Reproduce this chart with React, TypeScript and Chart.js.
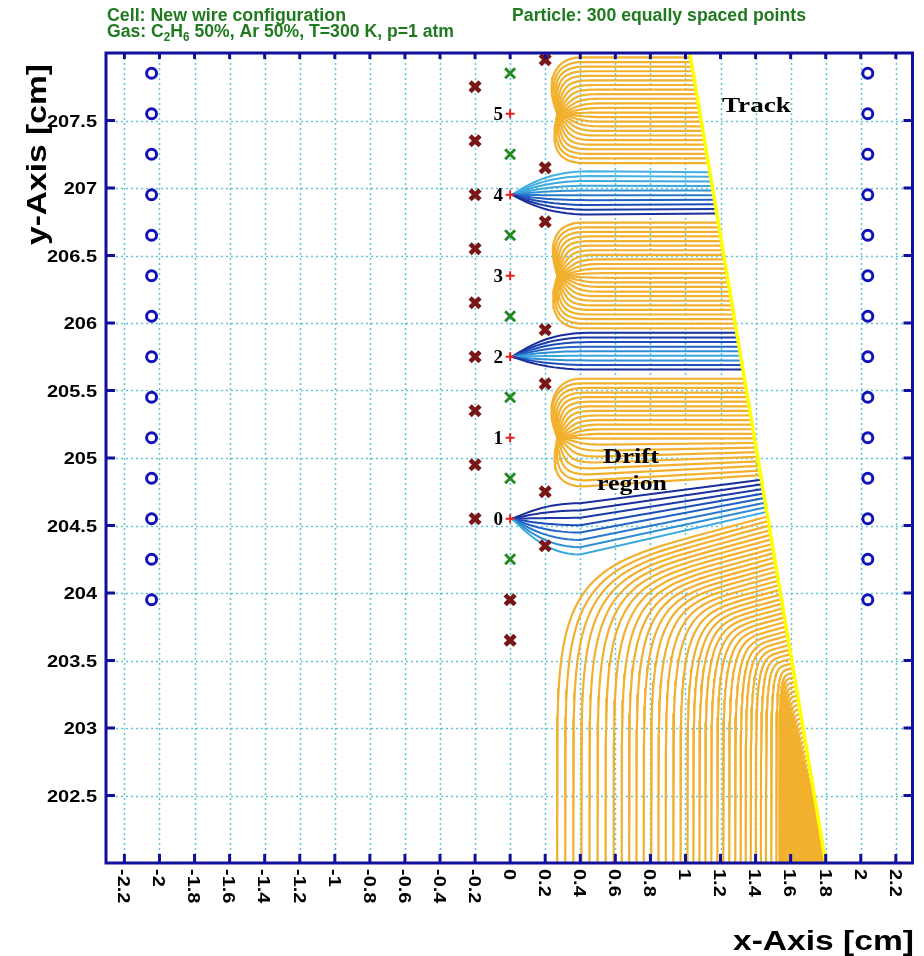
import { useEffect, useRef } from "react";
import { Chart, registerables } from "chart.js";
Chart.register(...registerables);

// ---------- axes ----------
const X_RANGE = [-2.305, 2.295];
const Y_RANGE = [202.0, 208.0];
const X_TICKS = [-2.2, -2, -1.8, -1.6, -1.4, -1.2, -1, -0.8, -0.6, -0.4, -0.2, 0, 0.2, 0.4, 0.6, 0.8, 1, 1.2, 1.4, 1.6, 1.8, 2, 2.2];
const X_TICK_LABELS = ["-2.2", "-2", "-1.8", "-1.6", "-1.4", "-1.2", "-1", "-0.8", "-0.6", "-0.4", "-0.2", "0", "0.2", "0.4", "0.6", "0.8", "1", "1.2", "1.4", "1.6", "1.8", "2", "2.2"];
const Y_TICKS = [202.5, 203, 203.5, 204, 204.5, 205, 205.5, 206, 206.5, 207, 207.5];
const Y_TICK_LABELS = ["202.5", "203", "203.5", "204", "204.5", "205", "205.5", "206", "206.5", "207", "207.5"];

// ---------- wires ----------
const CATHODE_X = [-2.045, 2.04];
const CATHODE_Y = [207.85, 207.55, 207.25, 206.95, 206.65, 206.35, 206.05, 205.75, 205.45, 205.15, 204.85, 204.55, 204.25, 203.95];
const SENSE_X = 0;
const SENSE_Y = [204.55, 205.15, 205.75, 206.35, 206.95, 207.55];
const SENSE_LABELS = ["0", "1", "2", "3", "4", "5"];
const FIELD_X = 0;
const FIELD_Y = [207.85, 207.25, 206.65, 206.05, 205.45, 204.85, 204.25];
const GUARD_L_X = -0.2;
const GUARD_L_Y = [207.75, 207.35, 206.95, 206.55, 206.15, 205.75, 205.35, 204.95, 204.55];
const GUARD_R_X = 0.2;
const GUARD_R_Y = [207.95, 207.15, 206.75, 205.95, 205.55, 204.75, 204.35];
const GUARD_M_X = 0;
const GUARD_M_Y = [203.95, 203.65];

// ---------- track ----------
const TRACK_X = [1.8, 1.025];
const TRACK_Y = [202.0, 208.0];
const TRACK_STEP = 0.034; // spacing of the drawn drift-line start points

// ---------- drift line groups (start heights on the track) ----------
const ORANGE_WIRE = [205.15, 206.35, 207.55];
const ORANGE_LO = [204.87, 205.96, 207.18];
const ORANGE_HI = [205.6, 206.77, 208.0];
const ORANGE_LOW_STRETCH = [1.3, 1.0, 1.0];
const BLUE_WIRE = [204.55, 205.75, 206.95];
const BLUE_LO = [204.6, 205.63, 206.8];
const BLUE_HI = [204.84, 205.93, 207.15];
const BLUE_LEFT_X = [0.4, 0.45, 0.45];
const BLUE_LEFT_SHIFT = [-0.245, 0, 0];
const BLUE_LEFT_STRETCH = [1.6, 1.0, 1.05];
const BOTTOM_START_Y = [202.0, 202.5, 203.0, 203.43, 203.7, 204.0, 204.3, 204.58];
const BOTTOM_END_X = [1.8, 1.72, 1.63, 1.53, 1.3, 1.0, 0.63, 0.25];

const ORANGE = "#f1b12e";
const BLUE_BAND_COLORS = [
  ["#3aa8dc", "#2f8fd4", "#2a78cc", "#2262c4", "#1d4db8", "#1a3aa8", "#1a2e9c", "#1a2e9c"],
  ["#1a2e9c", "#2050b8", "#2f8fd4", "#3aa8dc", "#2f8fd4", "#2262c4", "#1d4db8", "#1a3aa8", "#1a2e9c"],
  ["#1a2e9c", "#1a3aa8", "#1d4db8", "#2262c4", "#2a78cc", "#2f8fd4", "#3aa8dc", "#3aa8dc", "#42b0e0", "#42b0e0", "#48b8e4"],
];
const FRAME = "#10109c";
const GRID = "#5ec3d2";
const GREEN = "#1f7a1f";

type P = { x: number; y: number };

function trackX(y: number) {
  return TRACK_X[0] + ((TRACK_X[1] - TRACK_X[0]) * (y - TRACK_Y[0])) / (TRACK_Y[1] - TRACK_Y[0]);
}
function cubic(p0: P, p1: P, p2: P, p3: P, n: number): P[] {
  const out: P[] = [];
  for (let i = 1; i <= n; i++) {
    const t = i / n, u = 1 - t;
    out.push({
      x: u * u * u * p0.x + 3 * u * u * t * p1.x + 3 * u * t * t * p2.x + t * t * t * p3.x,
      y: u * u * u * p0.y + 3 * u * u * t * p1.y + 3 * u * t * t * p2.y + t * t * t * p3.y,
    });
  }
  return out;
}
function lookup(v: number, xs: number[], ys: number[]) {
  if (v <= xs[0]) return ys[0];
  for (let i = 1; i < xs.length; i++) {
    if (v <= xs[i]) {
      const f = (v - xs[i - 1]) / (xs[i] - xs[i - 1]);
      return ys[i - 1] + f * (ys[i] - ys[i - 1]);
    }
  }
  return ys[ys.length - 1];
}

function buildDriftLines() {
  const orange: P[][] = [];
  const blue: { pts: P[]; color: string }[] = [];
  const blueCount = [0, 0, 0];
  for (let y0 = TRACK_Y[0] + TRACK_STEP / 2; y0 < TRACK_Y[1]; y0 += TRACK_STEP) {
    const xt = trackX(y0);
    const start = { x: xt, y: y0 };
    if (y0 <= BOTTOM_START_Y[BOTTOM_START_Y.length - 1]) {
      // lines leaving through the bottom edge: squarish rounded path
      const xb = lookup(y0, BOTTOM_START_Y, BOTTOM_END_X);
      const span = xt - xb;
      const h = y0 - Y_RANGE[0];
      const tilt = 0.35 * span;
      const pts: P[] = [];
      const N = 36;
      for (let k = 0; k <= N; k++) {
        const phi = (Math.PI / 2) * (1 - k / N);
        const c = Math.pow(Math.max(0, Math.cos(phi)), 1 / 3);
        const s = Math.pow(Math.max(0, Math.sin(phi)), 1 / 3);
        pts.push({ x: xt - span * c, y: Y_RANGE[0] + (h - tilt) * s + tilt * (1 - c) });
      }
      orange.push(pts);
      continue;
    }
    let done = false;
    for (let b = 0; b < ORANGE_WIRE.length; b++) {
      if (y0 >= ORANGE_LO[b] && y0 <= ORANGE_HI[b]) {
        const yw = ORANGE_WIRE[b];
        const d = y0 - yw;
        const dd = d * (d < 0 ? ORANGE_LOW_STRETCH[b] : 1);
        const f = Math.min(1, Math.abs(dd) / 0.42);
        const th = (f * 130 * Math.PI) / 180;
        const xs = 0.55 - 0.15 * f;
        const a = { x: xs, y: yw + dd };
        const sg = dd >= 0 ? 1 : -1;
        const p1 = { x: xs - 0.15, y: yw + dd };
        const p2 = { x: 0.27 + 0.12 * Math.cos(th), y: yw + sg * (0.05 + 0.25 * f) * Math.sin(th) };
        orange.push([start, a, ...cubic(a, p1, p2, { x: 0.27, y: yw }, 18)]);
        done = true;
      }
    }
    if (done) continue;
    for (let b = 0; b < BLUE_WIRE.length; b++) {
      if (y0 >= BLUE_LO[b] && y0 <= BLUE_HI[b]) {
        const yw = BLUE_WIRE[b];
        const mid = (BLUE_LO[b] + BLUE_HI[b]) / 2;
        const yl = mid + BLUE_LEFT_SHIFT[b] + (y0 - mid) * BLUE_LEFT_STRETCH[b];
        const l = { x: BLUE_LEFT_X[b], y: yl };
        const pts = [start, l, ...cubic(l, { x: 0.2, y: yl }, { x: 0.08, y: yw + 0.3 * (yl - yw) }, { x: 0.01, y: yw }, 16)];
        const cols = BLUE_BAND_COLORS[b];
        blue.push({ pts, color: cols[Math.min(blueCount[b]++, cols.length - 1)] });
      }
    }
  }
  return { orange, blue };
}

function drawText(
  ctx: CanvasRenderingContext2D,
  text: string,
  x: number,
  y: number,
  font: string,
  o: { width?: number; sx?: number; align?: string; angle?: number; color?: string; dy?: number } = {}
) {
  ctx.save();
  ctx.font = font;
  ctx.fillStyle = o.color || "#000";
  ctx.textBaseline = "alphabetic";
  ctx.textAlign = "left";
  const w = ctx.measureText(text).width;
  const sx = o.width ? o.width / w : o.sx ?? 1;
  ctx.translate(x, y);
  if (o.angle) ctx.rotate(o.angle);
  ctx.scale(sx, 1);
  let x0 = 0;
  if (o.align === "right") x0 = -w;
  else if (o.align === "center") x0 = -w / 2;
  ctx.fillText(text, x0, o.dy ?? 0);
  ctx.restore();
  return sx;
}

const SANS_B = (s: number) => `bold ${s}px "Liberation Sans", Arial, Helvetica, sans-serif`;
const NARROW_B = (s: number) => `bold ${s}px "Liberation Sans Narrow", "Liberation Sans", Arial, sans-serif`;
const SERIF_B = (s: number) => `bold ${s}px "Liberation Serif", "Times New Roman", serif`;

const decorPlugin = {
  id: "decor",
  beforeDatasetsDraw(chart: any) {
    const { ctx, chartArea: a, scales } = chart;
    ctx.save();
    ctx.strokeStyle = GRID;
    ctx.lineWidth = 1.5;
    ctx.setLineDash([2, 3]);
    for (const v of X_TICKS) {
      const px = Math.round(scales.x.getPixelForValue(v)) + 0.5;
      ctx.beginPath();
      ctx.moveTo(px, a.top);
      ctx.lineTo(px, a.bottom);
      ctx.stroke();
    }
    for (const v of Y_TICKS) {
      const py = Math.round(scales.y.getPixelForValue(v)) + 0.5;
      ctx.beginPath();
      ctx.moveTo(a.left, py);
      ctx.lineTo(a.right, py);
      ctx.stroke();
    }
    ctx.restore();
  },
  afterDatasetsDraw(chart: any) {
    const { ctx, chartArea: a, scales } = chart;
    ctx.save();
    ctx.strokeStyle = FRAME;
    ctx.lineWidth = 3;
    ctx.strokeRect(a.left, a.top, a.right - a.left, a.bottom - a.top);
    for (const v of X_TICKS) {
      const px = scales.x.getPixelForValue(v);
      ctx.beginPath();
      ctx.moveTo(px, a.bottom);
      ctx.lineTo(px, a.bottom - 9);
      ctx.moveTo(px, a.top);
      ctx.lineTo(px, a.top + 6);
      ctx.stroke();
    }
    for (const v of Y_TICKS) {
      const py = scales.y.getPixelForValue(v);
      ctx.beginPath();
      ctx.moveTo(a.left, py);
      ctx.lineTo(a.left + 9, py);
      ctx.moveTo(a.right, py);
      ctx.lineTo(a.right - 9, py);
      ctx.stroke();
    }
    ctx.restore();

    // tick labels
    ctx.save();
    ctx.font = SANS_B(17);
    const sx = 50 / ctx.measureText("207.5").width;
    ctx.restore();
    Y_TICKS.forEach((v, i) => {
      drawText(ctx, Y_TICK_LABELS[i], 97, scales.y.getPixelForValue(v) + 6.2, SANS_B(17), { sx, align: "right" });
    });
    X_TICKS.forEach((v, i) => {
      drawText(ctx, X_TICK_LABELS[i], scales.x.getPixelForValue(v), 869, SANS_B(17), { sx, angle: Math.PI / 2, dy: 6.2 });
    });
    // axis titles
    drawText(ctx, "x-Axis [cm]", 733, 950, SANS_B(28), { width: 181 });
    drawText(ctx, "y-Axis [cm]", 46, 245, SANS_B(28), { width: 181, angle: -Math.PI / 2 });

    // header texts
    drawText(ctx, "Cell: New wire configuration", 107, 21, NARROW_B(18), { width: 239, color: GREEN });
    drawText(ctx, "Particle: 300 equally spaced points", 512, 21, NARROW_B(18), { width: 294, color: GREEN });
    {
      const parts: [string, boolean][] = [["Gas: C", false], ["2", true], ["H", false], ["6", true], [" 50%, Ar 50%, T=300 K, p=1 atm", false]];
      ctx.save();
      let total = 0;
      const ws = parts.map(([t, sub]) => {
        ctx.font = sub ? NARROW_B(12) : NARROW_B(18);
        const w = ctx.measureText(t).width;
        total += w;
        return w;
      });
      const s = 347 / total;
      ctx.translate(107, 37);
      ctx.scale(s, 1);
      ctx.fillStyle = GREEN;
      let cx = 0;
      parts.forEach(([t, sub], i) => {
        ctx.font = sub ? NARROW_B(12) : NARROW_B(18);
        ctx.fillText(t, cx, sub ? 3.5 : 0);
        cx += ws[i];
      });
      ctx.restore();
    }

    // annotations
    drawText(ctx, "Track", 722, 112, SERIF_B(22), { width: 69 });
    drawText(ctx, "Drift", 603, 463, SERIF_B(22), { width: 56 });
    drawText(ctx, "region", 597, 490, SERIF_B(22), { width: 70 });
    SENSE_Y.forEach((v, i) => {
      drawText(ctx, SENSE_LABELS[i], 503, scales.y.getPixelForValue(v) + 6.5, SERIF_B(19), { align: "right" });
    });
  },
};

export default function App() {
  const ref = useRef<HTMLCanvasElement | null>(null);
  useEffect(() => {
    if (!ref.current) return;
    const { orange, blue } = buildDriftLines();
    const lineDs = (pts: P[], color: string, width: number, order: number) => ({
      data: pts,
      showLine: true,
      borderColor: color,
      borderWidth: width,
      pointRadius: 0,
      fill: false,
      clip: 0,
      order,
    });
    const markerDs = (pts: P[], style: string, radius: number, width: number, color: string) => ({
      data: pts,
      showLine: false,
      pointStyle: style,
      pointRadius: radius,
      pointBorderWidth: width,
      borderColor: color,
      pointBorderColor: color,
      backgroundColor: "rgba(0,0,0,0)",
      pointBackgroundColor: "rgba(0,0,0,0)",
      clip: false,
      order: 0,
    });
    const datasets: any[] = [
      markerDs(CATHODE_X.flatMap((x) => CATHODE_Y.map((y) => ({ x, y }))), "circle", 5, 3, "#1212b8"),
      markerDs(SENSE_Y.map((y) => ({ x: SENSE_X, y })), "cross", 4.5, 2, "#e52020"),
      markerDs(FIELD_Y.map((y) => ({ x: FIELD_X, y })), "crossRot", 7, 3, "#238a23"),
      markerDs(
        [
          ...GUARD_L_Y.map((y) => ({ x: GUARD_L_X, y })),
          ...GUARD_R_Y.map((y) => ({ x: GUARD_R_X, y })),
          ...GUARD_M_Y.map((y) => ({ x: GUARD_M_X, y })),
        ],
        "crossRot",
        7,
        4.5,
        "#7a1616"
      ),
      lineDs([{ x: TRACK_X[0], y: TRACK_Y[0] }, { x: TRACK_X[1], y: TRACK_Y[1] }], "#ffff00", 3.5, 1),
      ...blue.map((b) => lineDs(b.pts, b.color, 2, 2)),
      ...orange.map((pts) => lineDs(pts, ORANGE, 2.2, 3)),
    ];
    const chart = new Chart(ref.current, {
      type: "scatter",
      data: { datasets },
      options: {
        responsive: false,
        animation: false,
        devicePixelRatio: 1,
        events: [],
        layout: { padding: { left: 106, top: 53, right: 7, bottom: 93 } },
        plugins: { legend: { display: false }, tooltip: { enabled: false } },
        scales: {
          x: { type: "linear", display: false, min: X_RANGE[0], max: X_RANGE[1] },
          y: { type: "linear", display: false, min: Y_RANGE[0], max: Y_RANGE[1] },
        },
      } as any,
      plugins: [decorPlugin as any],
    });
    return () => chart.destroy();
  }, []);
  return (
    <div style={{ position: "absolute", left: 0, top: 0, width: 924, height: 956, background: "#fff" }}>
      <canvas ref={ref} width={924} height={956} style={{ display: "block" }} />
    </div>
  );
}
